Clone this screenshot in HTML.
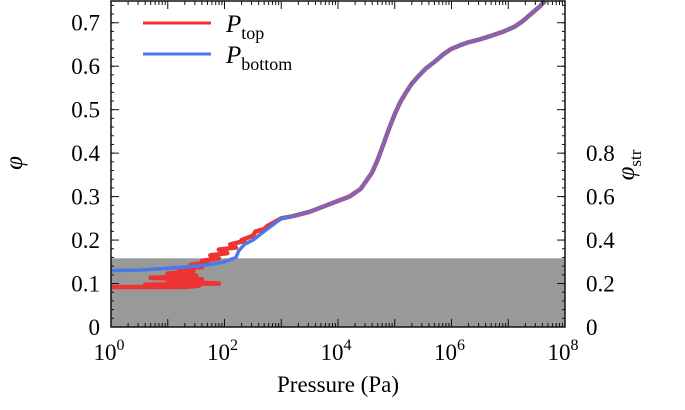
<!DOCTYPE html>
<html><head><meta charset="utf-8"><style>
body{margin:0;background:#fff;}
svg text{font-family:"Liberation Serif",serif;fill:#000;}
</style></head><body>
<svg id="chart" width="685" height="405" viewBox="0 0 685 405" xmlns="http://www.w3.org/2000/svg">
<g id="plot"></g>
</svg>
<script>
const xTickExps=[0,2,4,6,8];
const yTicks=[0,0.1,0.2,0.3,0.4,0.5,0.6,0.7];
const yTickLabels=["0","0.1","0.2","0.3","0.4","0.5","0.6","0.7"];
const y2Ticks=[0,0.2,0.4,0.6,0.8];
const y2TickLabels=["0","0.2","0.4","0.6","0.8"];
const shadeTop=0.158;
const sharedLogP=[3.2,3.5,3.8,4,4.2,4.4,4.6,4.7,4.8,4.9,5,5.1,5.2,5.3,5.4,5.55,5.7,5.85,6,6.15,6.3,6.5,6.7,6.9,7.1,7.25,7.4,7.55,7.65];
const sharedPhi=[0.255,0.265,0.28,0.29,0.3,0.318,0.355,0.385,0.42,0.457,0.49,0.518,0.54,0.56,0.575,0.595,0.61,0.627,0.64,0.648,0.655,0.662,0.67,0.679,0.69,0.703,0.72,0.737,0.75];
const topLogP=[0,1.3,1.55,0.6,1.9,1.0,1.6,0.7,1.5,1.0,1.45,1.2,1.6,1.4,1.7,1.6,1.9,1.75,2.05,1.9,2.2,2.1,2.35,2.3,2.5,2.55,2.7,2.75,3];
const topPhi=[0.092,0.092,0.095,0.097,0.1,0.105,0.11,0.113,0.118,0.123,0.128,0.133,0.138,0.143,0.148,0.152,0.158,0.165,0.17,0.178,0.183,0.19,0.198,0.2,0.21,0.22,0.225,0.232,0.25];
const bottomLogP=[0,0.5,1,1.5,1.8,2.0,2.2,2.25,2.35,2.5,2.7,3];
const bottomPhi=[0.13,0.131,0.135,0.14,0.145,0.15,0.16,0.175,0.19,0.2,0.22,0.25];

const X0=111,X1=565,Y0=327,YT=1;
const xs=l=>X0+l*(X1-X0)/8;
const ys=p=>Y0-p*(Y0-YT)/0.75;
const ys2=p=>ys(p/2);
const NS="http://www.w3.org/2000/svg";
const g=document.getElementById('plot');
function mk(t,a,parent){const e=document.createElementNS(NS,t);for(const k in a)e.setAttribute(k,a[k]);(parent||g).appendChild(e);return e;}

const shade=mk('rect',{x:X0,y:ys(shadeTop),width:X1-X0,height:Y0-ys(shadeTop),fill:'#999'});



function line(lx,py,color,name,w){
  let d='';
  lx.forEach((l,i)=>{d+=(i?'L':'M')+xs(l).toFixed(1)+','+ys(py[i]).toFixed(1);});
  sharedLogP.forEach((l,i)=>{d+='L'+xs(l).toFixed(1)+','+ys(sharedPhi[i]).toFixed(1);});
  const p=mk('path',{d:d,fill:'none',stroke:color,'stroke-width':w,'stroke-linejoin':'round'});
  
  
}
line(topLogP,topPhi,'#ee3333','series-p-top',4.5);
line(bottomLogP,bottomPhi,'#4a78e8','series-p-bottom',3.5);
(function(){let d='';sharedLogP.forEach((l,i)=>{d+=(i?'L':'M')+xs(l).toFixed(1)+','+ys(sharedPhi[i]).toFixed(1);});
const p=mk('path',{d:d,fill:'none',stroke:'#dd4466','stroke-width':1,'stroke-linejoin':'round'});

})();

const fr=mk('rect',{x:X0,y:YT,width:X1-X0,height:Y0-YT,fill:'none',stroke:'#111','stroke-width':1.5});



for(let e=0;e<8;e++){for(let m=1;m<10;m++){const x=xs(e+Math.log10(m));const len=m===1?8:4;
mk('line',{x1:x,x2:x,y1:Y0,y2:Y0-len,stroke:'#111','stroke-width':1});
mk('line',{x1:x,x2:x,y1:YT,y2:YT+len,stroke:'#111','stroke-width':1});}}
xTickExps.forEach(e=>{const t=mk('text',{x:xs(e)-2,y:360,'text-anchor':'middle','font-size':23});


t.innerHTML='10<tspan dy="-10" font-size="16">'+e+'</tspan>';});

for(let v=0;v<=0.75001;v+=0.02){const y=ys(v);mk('line',{x1:X0,x2:X0+3,y1:y,y2:y,stroke:'#111','stroke-width':1});}
yTicks.forEach((v,i)=>{const y=ys(v);mk('line',{x1:X0,x2:X0+8,y1:y,y2:y,stroke:'#111','stroke-width':1});
const t=mk('text',{x:X0-11,y:y+8,'text-anchor':'end','font-size':23});t.textContent=yTickLabels[i];

});
for(let v=0;v<=1.5001;v+=0.04){const y=ys2(v);mk('line',{x1:X1,x2:X1-3,y1:y,y2:y,stroke:'#111','stroke-width':1});}
for(let v=0;v<=1.5001;v+=0.2){const y=ys2(v);mk('line',{x1:X1,x2:X1-8,y1:y,y2:y,stroke:'#111','stroke-width':1});}
y2Ticks.forEach((v,i)=>{const y=ys2(v);const t=mk('text',{x:586,y:y+8,'text-anchor':'start','font-size':23});t.textContent=y2TickLabels[i];

});

let t=mk('text',{x:338,y:392,'text-anchor':'middle','font-size':23});t.textContent='Pressure (Pa)';

t=mk('text',{x:0,y:0,'text-anchor':'middle','font-size':25,'font-style':'italic',transform:'translate(22,163) rotate(-90)'});t.textContent='φ';

t=mk('text',{x:0,y:0,'text-anchor':'middle','font-size':25,transform:'translate(228,0)'});
t.remove();
t=mk('text',{x:0,y:0,'text-anchor':'middle','font-size':25,transform:'translate(230,0)'});t.remove();
t=mk('text',{x:0,y:0,'text-anchor':'middle','font-size':25,transform:'translate(232,0)'});t.remove();
t=mk('text',{x:0,y:0,'text-anchor':'middle','font-size':25,transform:'translate(634,165) rotate(-90)'});t.innerHTML='<tspan font-style="italic">φ</tspan><tspan dy="7" font-size="17">str</tspan>';


let l=mk('line',{x1:143,x2:211,y1:23,y2:23,stroke:'#ee3333','stroke-width':3});

l=mk('line',{x1:143,x2:211,y1:54,y2:54,stroke:'#4a78e8','stroke-width':3});

t=mk('text',{x:226,y:32,'font-size':25});t.innerHTML='<tspan font-style="italic">P</tspan><tspan dy="7" font-size="18">top</tspan>';

t=mk('text',{x:226,y:63,'font-size':25});t.innerHTML='<tspan font-style="italic">P</tspan><tspan dy="7" font-size="18">bottom</tspan>';

</script>
</body></html>
